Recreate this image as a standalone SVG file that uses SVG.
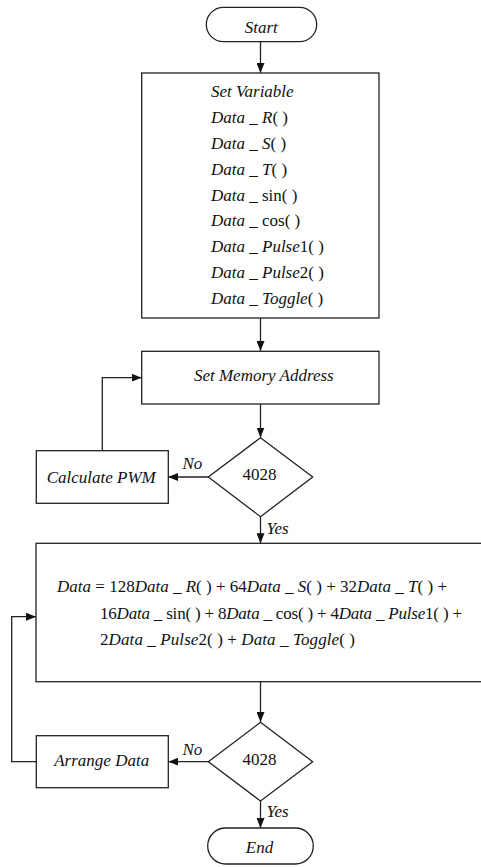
<svg xmlns="http://www.w3.org/2000/svg" width="481" height="867" viewBox="0 0 481 867">
<defs>
<marker id="arr" viewBox="0 0 10 8" refX="10" refY="4" markerWidth="10" markerHeight="8" markerUnits="userSpaceOnUse" orient="auto">
<path d="M0,0 L10,4 L0,8 Z" fill="#111"/>
</marker>
</defs>
<rect width="481" height="867" fill="#fff"/>
<g font-family="Liberation Serif" font-size="17" fill="#111">
<g id="connectors" fill="none" stroke="#222" stroke-width="1.3">
<path d="M260.5,42 V73" marker-end="url(#arr)"/>
<path d="M260.5,318 V351" marker-end="url(#arr)"/>
<path d="M260.5,404 V437.5" marker-end="url(#arr)"/>
<path d="M208.3,477 H168.3" marker-end="url(#arr)"/>
<path d="M102.3,450.7 V377.7 H141.7" marker-end="url(#arr)"/>
<path d="M260.5,516.7 V543.3" marker-end="url(#arr)"/>
<path d="M260.5,681.7 V722" marker-end="url(#arr)"/>
<path d="M208.3,761.7 H168.3" marker-end="url(#arr)"/>
<path d="M36.3,761.7 H11.7 V616.7 H36" marker-end="url(#arr)"/>
<path d="M260.5,801 V828" marker-end="url(#arr)"/>
</g>
<g id="connector-labels" font-style="italic">
<text x="182.5" y="469">No</text>
<text x="266.5" y="533.5">Yes</text>
<text x="182.5" y="755">No</text>
<text x="266.5" y="816.5">Yes</text>
</g>
<g id="start">
<rect x="206.3" y="7.3" width="110.4" height="34.4" rx="17.2" fill="#fff" stroke="#222" stroke-width="1.3"/>
<text x="261.3" y="33.3" font-style="italic" text-anchor="middle">Start</text>
</g>
<g id="set-variable">
<rect x="141.7" y="73" width="237.3" height="245" fill="#fff" stroke="#222" stroke-width="1.3"/>
<text x="211" y="97" font-style="italic">Set Variable</text>
<text x="211" y="123"><tspan font-style="italic">Data</tspan> _ <tspan font-style="italic">R</tspan>( )</text>
<text x="211" y="149"><tspan font-style="italic">Data</tspan> _ <tspan font-style="italic">S</tspan>( )</text>
<text x="211" y="175"><tspan font-style="italic">Data</tspan> _ <tspan font-style="italic">T</tspan>( )</text>
<text x="211" y="200.5"><tspan font-style="italic">Data</tspan> _ sin( )</text>
<text x="211" y="226"><tspan font-style="italic">Data</tspan> _ cos( )</text>
<text x="211" y="252"><tspan font-style="italic">Data</tspan> _ <tspan font-style="italic">Pulse</tspan>1( )</text>
<text x="211" y="277.5"><tspan font-style="italic">Data</tspan> _ <tspan font-style="italic">Pulse</tspan>2( )</text>
<text x="211" y="303.5"><tspan font-style="italic">Data</tspan> _ <tspan font-style="italic">Toggle</tspan>( )</text>
</g>
<g id="set-memory-address">
<rect x="141.7" y="351.3" width="237.3" height="52.7" fill="#fff" stroke="#222" stroke-width="1.3"/>
<text x="263.8" y="380.7" font-style="italic" text-anchor="middle">Set Memory Address</text>
</g>
<g id="decision-1">
<path d="M260.5,437.7 L312.7,477 L260.5,516.7 L208.3,477 Z" fill="#fff" stroke="#222" stroke-width="1.3"/>
<text x="259.5" y="480" text-anchor="middle">4028</text>
</g>
<g id="calculate-pwm">
<rect x="36.3" y="450.7" width="132" height="52.6" fill="#fff" stroke="#222" stroke-width="1.3"/>
<text x="101.2" y="483.3" font-style="italic" text-anchor="middle">Calculate PWM</text>
</g>
<g id="data-formula">
<rect x="36" y="543.3" width="460" height="138.4" fill="#fff" stroke="#222" stroke-width="1.3"/>
<text x="57" y="592.3" textLength="390" lengthAdjust="spacing"><tspan font-style="italic">Data</tspan> = 128<tspan font-style="italic">Data</tspan> _ <tspan font-style="italic">R</tspan>( ) + 64<tspan font-style="italic">Data</tspan> _ <tspan font-style="italic">S</tspan>( ) + 32<tspan font-style="italic">Data</tspan> _ <tspan font-style="italic">T</tspan>( ) +</text>
<text x="100" y="619.3" textLength="362" lengthAdjust="spacing">16<tspan font-style="italic">Data</tspan> _ sin( ) + 8<tspan font-style="italic">Data</tspan> _ cos( ) + 4<tspan font-style="italic">Data</tspan> _ <tspan font-style="italic">Pulse</tspan>1( ) +</text>
<text x="100" y="645" textLength="255" lengthAdjust="spacing">2<tspan font-style="italic">Data</tspan> _ <tspan font-style="italic">Pulse</tspan>2( ) + <tspan font-style="italic">Data</tspan> _ <tspan font-style="italic">Toggle</tspan>( )</text>
</g>
<g id="decision-2">
<path d="M260.5,722.3 L312.7,761.7 L260.5,801 L208.3,761.7 Z" fill="#fff" stroke="#222" stroke-width="1.3"/>
<text x="259.5" y="765" text-anchor="middle">4028</text>
</g>
<g id="arrange-data">
<rect x="36.3" y="735.7" width="132" height="52" fill="#fff" stroke="#222" stroke-width="1.3"/>
<text x="101.7" y="766" font-style="italic" text-anchor="middle">Arrange Data</text>
</g>
<g id="end">
<rect x="207.7" y="828" width="105.6" height="36" rx="18" fill="#fff" stroke="#222" stroke-width="1.3"/>
<text x="259.5" y="853.3" font-style="italic" text-anchor="middle">End</text>
</g>
</g>
</svg>
